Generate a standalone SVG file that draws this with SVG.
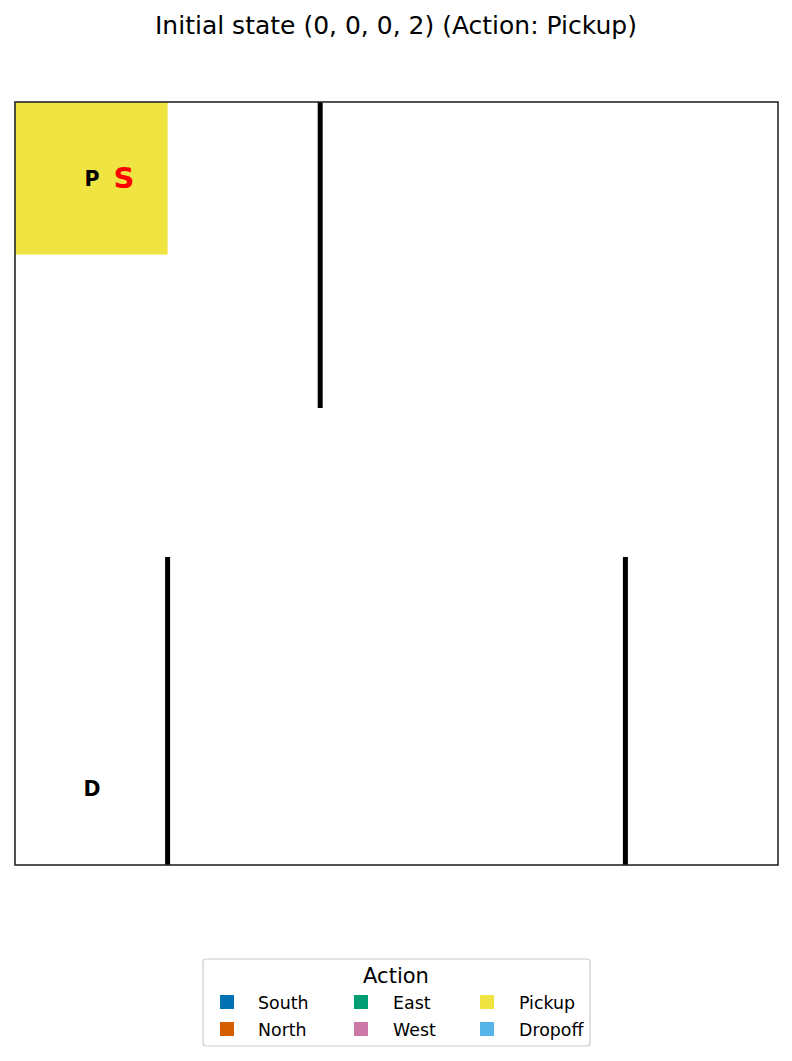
<svg xmlns="http://www.w3.org/2000/svg" width="792" height="1061" viewBox="0 0 792 1061">
<style>
text{font-family:"DejaVu Sans","Liberation Sans",sans-serif;fill:#000}
.wall{stroke:#000;stroke-width:5;fill:none}
.lbl{font-weight:bold;font-size:20.5px;text-anchor:middle}
.leg{font-size:17.4px}
</style>
<rect x="0" y="0" width="792" height="1061" fill="#fff"/>
<text id="title" x="396" y="34" text-anchor="middle" font-size="25">Initial state (0, 0, 0, 2) (Action: Pickup)</text>
<g id="grid">
<rect x="15" y="102" width="152.6" height="152.6" fill="#f0e442"/>
</g>
<g id="walls">
<line class="wall" x1="320.2" y1="102" x2="320.2" y2="408"/>
<line class="wall" x1="167.6" y1="557" x2="167.6" y2="865"/>
<line class="wall" x1="625.4" y1="557" x2="625.4" y2="865"/>
</g>
<rect id="frame" x="15" y="102" width="763" height="763" fill="none" stroke="#262626" stroke-width="1.6"/>
<g id="labels">
<text class="lbl" x="92" y="185.5">P</text>
<text x="124" y="188" text-anchor="middle" font-size="29" font-weight="bold" style="fill:#ff0000">S</text>
<text class="lbl" x="92" y="795.5">D</text>
</g>
<g id="legend">
<rect x="203" y="959" width="387" height="87" rx="3" fill="#fff" fill-opacity="0.8" stroke="#cccccc" stroke-width="1.2"/>
<text x="396" y="983" text-anchor="middle" font-size="21">Action</text>
<rect x="220" y="995" width="14" height="14" fill="#0072b2"/>
<text class="leg" x="258" y="1009">South</text>
<rect x="220" y="1022" width="14" height="14" fill="#d55e00"/>
<text class="leg" x="258" y="1036">North</text>
<rect x="354" y="995" width="14" height="14" fill="#009e73"/>
<text class="leg" x="393" y="1009">East</text>
<rect x="354" y="1022" width="14" height="14" fill="#cc79a7"/>
<text class="leg" x="393" y="1036">West</text>
<rect x="480" y="995" width="14" height="14" fill="#f0e442"/>
<text class="leg" x="519" y="1009">Pickup</text>
<rect x="480" y="1022" width="14" height="14" fill="#56b4e9"/>
<text class="leg" x="519" y="1036">Dropoff</text>
</g>
</svg>
